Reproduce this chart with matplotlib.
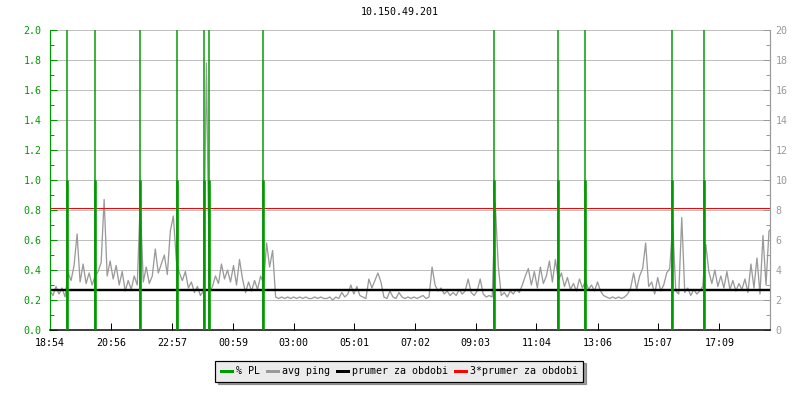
import matplotlib
matplotlib.use("Agg")
import matplotlib.pyplot as plt
from matplotlib.lines import Line2D
import numpy as np

title = "10.150.49.201"
tick_labels = ["18:54", "20:56", "22:57", "00:59", "03:00", "05:01",
               "07:02", "09:03", "11:04", "13:06", "15:07", "17:09"]
span_minutes = 1436
step_minutes = 6

# avg ping [ms], one sample every 6 minutes from 18:54
avg_ping = [
    2.6, 2.3, 2.9, 2.4, 2.8, 2.2, 3.8, 3.3, 4.3, 6.4,
    3.2, 4.4, 3.1, 3.8, 3.0, 3.6, 3.9, 4.5, 8.7, 3.6,
    4.6, 3.4, 4.3, 3.0, 3.9, 2.6, 3.3, 2.7, 3.6, 3.0,
    8.6, 3.2, 4.2, 3.1, 3.6, 5.4, 3.8, 4.4, 5.0, 3.7,
    6.6, 7.6, 4.6, 3.8, 3.3, 3.9, 2.8, 3.2, 2.5, 2.9,
    2.3, 2.6, 17.8, 2.5, 2.9, 3.6, 3.1, 4.4, 3.4, 4.0,
    3.2, 4.3, 3.0, 4.7, 3.4, 2.5, 3.2, 2.6, 3.3, 2.7,
    3.6, 3.1, 5.8, 4.2, 5.3, 2.2, 2.1, 2.2, 2.1, 2.2,
    2.1, 2.2, 2.1, 2.2, 2.1, 2.2, 2.1, 2.1, 2.2, 2.1,
    2.2, 2.1, 2.1, 2.2, 2.0, 2.2, 2.1, 2.5, 2.2, 2.4,
    3.0, 2.4, 2.9, 2.3, 2.2, 2.1, 3.4, 2.8, 3.3, 3.8,
    3.2, 2.2, 2.1, 2.6, 2.2, 2.1, 2.5, 2.2, 2.1, 2.2,
    2.1, 2.2, 2.1, 2.2, 2.3, 2.1, 2.2, 4.2, 3.0, 2.6,
    2.8, 2.4, 2.6, 2.3, 2.5, 2.3, 2.7, 2.4, 2.6, 3.4,
    2.5, 2.3, 2.6, 3.4, 2.4, 2.2, 2.3, 2.2, 8.5, 4.3,
    2.3, 2.5, 2.2, 2.6, 2.4, 2.7, 2.5, 3.0, 3.6, 4.1,
    3.0, 3.9, 2.8, 4.2, 3.1, 3.6, 4.6, 3.2, 4.7, 3.3,
    3.8, 2.9, 3.5, 2.7, 3.1, 2.6, 3.4, 2.8, 3.3, 2.7,
    3.0, 2.6, 3.2, 2.6, 2.3, 2.2, 2.1, 2.2, 2.1, 2.2,
    2.1, 2.2, 2.4, 2.8, 3.8, 2.7, 3.6, 4.1, 5.8, 2.9,
    3.2, 2.4, 3.5, 2.6, 3.0, 3.8, 4.1, 7.1, 2.6, 2.4,
    7.5, 2.5, 2.8, 2.3, 2.7, 2.4, 2.6, 2.9, 5.7, 3.9,
    3.1, 4.0, 2.9, 3.6, 2.8, 3.9, 2.7, 3.3, 2.6, 3.1,
    2.7, 3.4, 2.5, 4.4, 2.8, 4.8, 2.4, 6.3, 3.0, 6.6,
    6.8,
]

# packet loss events (minutes from 18:54)
pl_times = [34, 90, 180, 253, 308, 318, 425, 886, 1014, 1068, 1240, 1304]
pl_peak = [2.0] * len(pl_times)
pl_base = [1.0] * len(pl_times)

prumer = 2.7          # average ping for the period [ms]
trojnasobek = 3 * prumer

GREEN = "#009900"
GRAY = "#9a9a9a"
GRID = "#c0c0c0"
FONT = "DejaVu Sans Mono"
FS = 7.2

plt.rcParams["font.family"] = FONT
plt.rcParams["font.size"] = FS

px = 72 / 100.0
fig = plt.figure(figsize=(8, 4), dpi=100)
ax = fig.add_axes([50 / 800, 70 / 400, 720 / 800, 300 / 400])
ax2 = ax.twinx()

t = np.arange(len(avg_ping)) * step_minutes

# gray series + reference lines on right axis
ax2.plot(t, avg_ping, color=GRAY, lw=1.3 * px, zorder=2)
ax2.axhline(prumer, color="black", lw=2.4 * px, zorder=3)
ax2.axhline(trojnasobek, color="red", lw=1 * px, zorder=3, antialiased=False)
ax2.set_ylim(0, 20)

# packet loss on left axis (drawn above)
ax.set_zorder(ax2.get_zorder() + 1)
ax.patch.set_visible(False)
ax.vlines(pl_times, 0, pl_peak, color=GREEN, lw=1.5 * px, zorder=4)
ax.vlines(pl_times, 0, pl_base, color=GREEN, lw=2.6 * px, zorder=4)
ax.set_ylim(0, 2.0)
ax.set_xlim(0, span_minutes)

# grid
for y in np.arange(0.2, 2.01, 0.2):
    ax2.axhline(y * 10, color=GRID, lw=1 * px, zorder=0, antialiased=False)

def to_min(s):
    h, m = map(int, s.split(":"))
    h0, m0 = map(int, tick_labels[0].split(":"))
    return ((h * 60 + m) - (h0 * 60 + m0)) % 1440

ax.set_xticks([to_min(s) for s in tick_labels])
ax.set_xticklabels(tick_labels)
ax.set_yticks(np.arange(0, 2.01, 0.2))
ax.set_yticklabels([f"{v:.1f}" for v in np.arange(0, 2.01, 0.2)])
ax.set_yticks(np.arange(0.1, 2.0, 0.2), minor=True)
ax2.set_yticks(np.arange(0, 21, 2))
ax2.set_yticks(np.arange(1, 20, 2), minor=True)

ax.tick_params(axis="y", which="major", direction="in", length=5, width=1 * px,
               color=GREEN, labelcolor=GREEN, pad=6, labelsize=FS)
ax.tick_params(axis="y", which="minor", direction="in", length=3, width=1 * px,
               color=GREEN)
ax.tick_params(axis="x", which="major", direction="in", length=5, width=1 * px,
               color="black", labelcolor="black", pad=6, labelsize=FS)
ax2.tick_params(axis="y", which="major", direction="in", length=5, width=1 * px,
                color=GRAY, labelcolor=GRAY, pad=4, labelsize=FS)
ax2.tick_params(axis="y", which="minor", direction="in", length=3, width=1 * px,
                color=GRAY)

for a in (ax, ax2):
    a.spines["top"].set_visible(False)
ax.spines["left"].set_color(GREEN)
ax.spines["left"].set_linewidth(1.2 * px)
ax.spines["bottom"].set_color("black")
ax.spines["bottom"].set_linewidth(1.5 * px)
ax.spines["right"].set_visible(False)
ax2.spines["left"].set_visible(False)
ax2.spines["bottom"].set_visible(False)
ax2.spines["right"].set_color(GRAY)
ax2.spines["right"].set_linewidth(1.2 * px)

fig.text(0.5, 1 - 12 / 400, title, ha="center", va="center", fontsize=FS,
         color="black")

handles = [
    Line2D([], [], color=GREEN, lw=3 * px),
    Line2D([], [], color=GRAY, lw=3 * px),
    Line2D([], [], color="black", lw=3 * px),
    Line2D([], [], color="red", lw=3 * px),
]
labels = ["% PL", "avg ping", "prumer za obdobi", "3*prumer za obdobi"]
leg = fig.legend(handles, labels, loc="center", bbox_to_anchor=(0.499, 1 - 371 / 400),
                 ncol=4, frameon=True, fancybox=False, shadow=True,
                 facecolor="#ebebeb", edgecolor="black", framealpha=1,
                 handlelength=1.1, handletextpad=0.4, columnspacing=0.7,
                 borderpad=0.55, fontsize=FS)
leg.get_frame().set_linewidth(1.2 * px)

fig.savefig("out.png", dpi=100)
